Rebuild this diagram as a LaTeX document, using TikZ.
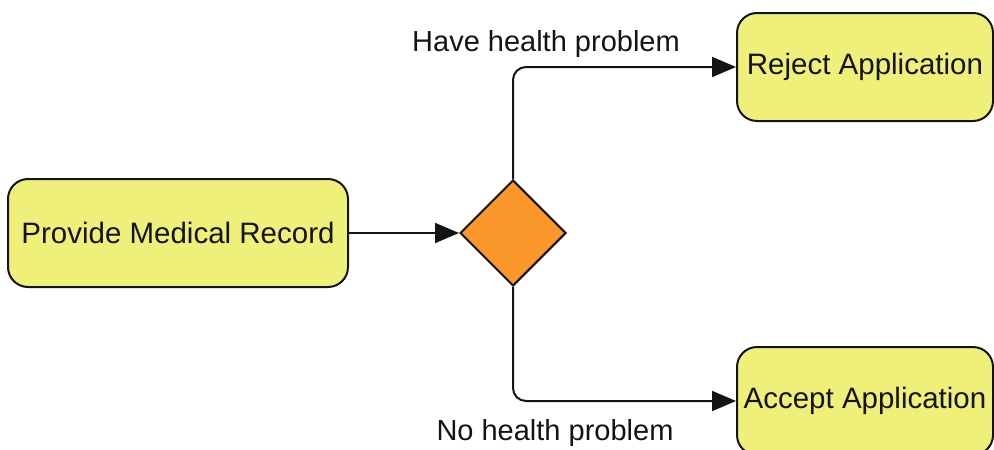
\documentclass[tikz,border=0pt]{standalone}
\usepackage{fontspec}
\setmainfont{Liberation Sans}
\usetikzlibrary{shapes.geometric,arrows.meta}
\definecolor{actfill}{RGB}{238,240,122}
\definecolor{decfill}{RGB}{250,152,44}
\definecolor{ink}{RGB}{20,20,20}
\begin{document}
\begin{tikzpicture}[x=1pt,y=-1pt,
  action/.style={draw=ink,line width=2pt,fill=actfill,rounded corners=20pt,
    minimum height=108pt,inner sep=0pt,
    font=\fontsize{29.5}{35}\selectfont,text=ink},
  decision/.style={draw=ink,line width=2pt,fill=decfill,diamond,
    minimum width=106pt,minimum height=106pt,inner sep=0pt},
  flow/.style={draw=ink,line width=2pt,rounded corners=13pt,
    -{Triangle[length=24pt,width=20pt]}},
  guard/.style={font=\fontsize{29}{35}\selectfont,text=ink,inner sep=0pt}]
  \useasboundingbox (0,0) rectangle (994,450);
  \node[action,minimum width=340pt] (prov) at (178,233) {Provide Medical Record};
  \node[decision] (dec) at (513,233) {};
  \node[action,minimum width=256pt] (rej) at (865,67) {Reject Application};
  \node[action,minimum width=256pt] (acc) at (865,401) {Accept Application};
  \draw[flow] (prov.east) -- (dec.west);
  \draw[flow] (dec.north) |- (rej.west);
  \draw[flow] (dec.south) |- (acc.west);
  \node[guard] (lblhave) at (546,44) {Have health problem};
  \node[guard] (lblno) at (555,433) {No health problem};
\end{tikzpicture}
\end{document}
